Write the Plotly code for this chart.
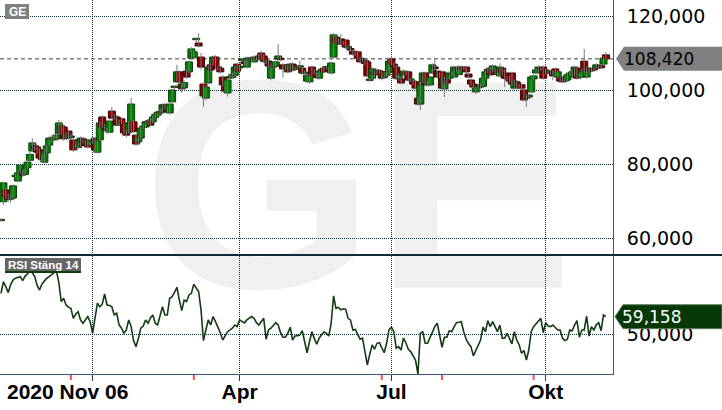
import plotly.graph_objects as go

# ---------------- data ----------------
ticker = "GE"
rsi_title = "RSI Stäng 14"
first_date_label = "2020 Nov 06"
date_tick_idx = [38, 99, 162, 226]          # trading-day index of Jan 4, Apr 1, Jul 1, Okt 1
date_tick_text = ["", "Apr", "Jul", "Okt"]
event_idx = [29, 80, 158, 183, 221]         # red event markers on the time axis
price_ticks = [60, 80, 100, 120]
rsi_ticks = [50]

open_ = [64.7, 69.8, 73.0, 71.2, 70.5, 70.8, 76.6, 75.4, 77.6, 77.8,
         77.2, 79.0, 81.0, 83.5, 85.0, 84.6, 83.8, 81.8, 80.5, 83.0,
         85.1, 87.0, 86.5, 86.8, 88.1, 90.3, 90.0, 87.0, 88.9, 87.2,
         86.5, 85.7, 84.5, 85.1, 86.8, 86.2, 86.0, 85.1, 86.4, 87.0,
         83.2, 86.5, 92.7, 90.2, 89.2, 88.6, 94.3, 92.8, 92.7, 90.6,
         92.2, 91.1, 88.9, 88.6, 89.0, 91.4, 87.8, 86.0, 87.0, 89.9,
         90.0, 91.0, 91.9, 91.4, 92.6, 93.2, 94.2, 94.0, 96.0, 95.0,
         93.8, 96.8, 100.7, 102.2, 104.9, 101.6, 100.6, 105.1, 104.9, 108.6,
         108.9, 113.6, 112.7, 108.9, 101.6, 97.8, 101.9, 106.8, 107.0, 108.9,
         106.2, 105.9, 103.5, 102.2, 99.2, 103.2, 103.4, 104.0, 107.0, 106.0,
         108.0, 107.6, 106.2, 108.3, 108.6, 107.6, 108.6, 108.4, 110.0, 109.2,
         107.6, 107.8, 103.2, 107.3, 106.4, 108.4, 108.6, 106.8, 105.8, 106.2,
         105.4, 107.0, 105.6, 106.2, 106.2, 105.9, 104.4, 102.4, 102.2, 106.2,
         105.1, 104.6, 103.2, 104.9, 105.9, 106.0, 105.8, 104.6, 108.9, 114.3,
         113.4, 113.8, 112.6, 113.5, 111.4, 111.2, 110.5, 110.0, 110.3, 108.6,
         108.0, 108.0, 107.6, 102.6, 103.2, 104.9, 104.6, 105.2, 104.9, 103.4,
         104.0, 104.9, 108.4, 107.0, 106.2, 103.0, 103.0, 104.1, 104.8, 104.9,
         102.6, 102.4, 102.2, 97.8, 96.2, 102.2, 104.6, 101.4, 101.4, 104.6,
         106.2, 105.1, 103.8, 104.9, 100.3, 103.0, 103.2, 104.4, 103.5, 106.0,
         104.2, 106.2, 105.8, 106.2, 104.3, 102.7, 101.6, 99.5, 100.6, 100.8,
         101.0, 103.2, 105.0, 105.9, 105.1, 105.4, 104.6, 103.8, 105.9, 104.6,
         103.4, 103.5, 104.6, 100.5, 102.2, 101.0, 101.4, 100.0, 98.6, 98.1,
         99.5, 103.0, 104.6, 105.1, 106.0, 106.2, 105.4, 104.8, 105.0, 104.9,
         105.7, 103.5, 103.5, 103.2, 102.4, 102.7, 104.2, 103.5, 104.0, 105.9,
         103.6, 103.5, 107.8, 103.5, 105.9, 105.2, 105.6, 105.9, 106.0, 106.6,
         107.0, 109.5]

high = [65.2, 75.2, 73.6, 72.0, 71.6, 74.5, 77.3, 78.0, 80.2, 78.5,
        79.3, 81.3, 83.2, 87.0, 85.8, 85.2, 84.2, 82.4, 83.9, 85.3,
        87.5, 87.8, 88.0, 88.4, 91.9, 91.5, 90.6, 88.6, 89.3, 88.2,
        87.0, 86.2, 85.6, 87.4, 87.3, 86.6, 86.4, 86.9, 87.0, 87.3,
        86.6, 91.5, 93.2, 90.8, 89.8, 92.0, 95.4, 93.4, 93.0, 92.0,
        92.6, 91.4, 89.3, 91.5, 97.8, 92.0, 88.2, 87.4, 90.1, 90.6,
        91.8, 92.0, 92.3, 93.2, 93.8, 94.4, 94.8, 96.4, 96.6, 95.5,
        96.6, 100.4, 101.4, 106.8, 105.3, 102.0, 102.6, 105.6, 108.0, 111.6,
        110.8, 114.2, 115.4, 110.0, 102.0, 101.2, 106.6, 107.2, 109.3, 109.4,
        106.6, 106.4, 104.0, 102.6, 103.1, 104.2, 104.6, 106.6, 107.4, 106.8,
        108.6, 108.2, 109.0, 109.0, 109.0, 109.3, 109.0, 109.8, 110.6, 109.6,
        108.2, 108.2, 107.4, 107.7, 108.0, 112.4, 109.0, 107.2, 106.6, 106.6,
        107.4, 107.5, 106.4, 106.6, 108.0, 106.3, 105.2, 104.4, 104.2, 106.6,
        105.6, 105.0, 105.3, 106.0, 106.3, 106.6, 106.2, 107.7, 115.4, 115.0,
        114.0, 115.1, 113.2, 113.9, 112.0, 111.6, 110.9, 110.4, 110.7, 109.0,
        108.6, 108.4, 108.0, 103.2, 106.1, 105.3, 105.8, 105.6, 105.3, 104.3,
        105.4, 108.8, 109.2, 107.4, 106.6, 104.4, 103.4, 105.5, 105.2, 105.3,
        103.2, 102.8, 102.6, 98.2, 102.0, 105.0, 105.0, 102.4, 103.9, 107.2,
        108.6, 105.5, 104.8, 105.3, 103.6, 103.4, 105.0, 104.8, 106.6, 106.4,
        106.6, 106.6, 106.4, 106.6, 104.7, 103.1, 102.0, 100.9, 101.4, 101.8,
        103.6, 105.3, 106.0, 106.3, 106.9, 105.8, 105.0, 107.2, 106.3, 105.6,
        103.8, 103.9, 105.0, 102.8, 102.6, 101.6, 101.8, 100.4, 99.0, 99.0,
        103.9, 104.2, 105.8, 106.6, 106.4, 106.6, 105.8, 105.4, 105.4, 105.3,
        106.1, 105.3, 103.9, 103.6, 103.2, 104.5, 104.8, 105.3, 106.6, 106.3,
        104.4, 105.8, 111.1, 106.3, 106.3, 106.0, 106.0, 107.2, 107.0, 107.0,
        109.0, 110.2]

low = [64.5, 68.9, 70.6, 69.8, 69.5, 70.2, 76.2, 75.0, 77.2, 76.5,
       76.8, 78.6, 80.6, 83.2, 83.6, 82.8, 81.0, 80.4, 80.1, 82.6,
       84.8, 86.0, 86.1, 86.4, 87.8, 88.0, 86.3, 86.4, 86.6, 86.6,
       83.2, 84.1, 84.0, 84.8, 85.5, 84.7, 84.2, 84.8, 85.5, 83.2,
       82.8, 86.2, 89.6, 88.8, 88.2, 88.3, 92.0, 92.0, 90.1, 90.2,
       90.8, 88.0, 87.2, 88.2, 88.5, 88.4, 84.9, 85.1, 86.6, 89.5,
       89.6, 90.5, 90.1, 91.0, 92.2, 92.8, 93.3, 93.6, 94.8, 93.6,
       93.4, 96.4, 100.2, 101.8, 101.6, 99.2, 100.2, 103.0, 104.5, 108.2,
       108.5, 113.0, 111.5, 105.5, 95.4, 97.2, 101.5, 105.0, 106.6, 105.6,
       105.4, 104.4, 101.0, 99.3, 98.2, 102.8, 103.0, 103.6, 104.7, 105.2,
       107.6, 106.8, 105.8, 107.9, 107.6, 107.2, 108.0, 108.0, 108.2, 107.4,
       107.0, 106.1, 102.6, 105.8, 106.0, 108.0, 107.8, 103.4, 105.4, 104.5,
       105.0, 105.0, 105.2, 105.6, 105.8, 104.2, 104.0, 102.0, 101.6, 103.4,
       104.2, 103.0, 102.8, 104.5, 104.5, 105.6, 104.6, 104.2, 108.5, 112.3,
       112.6, 112.0, 112.2, 111.2, 111.0, 110.4, 109.3, 109.3, 108.2, 107.2,
       107.6, 106.8, 103.4, 102.2, 102.8, 103.7, 104.2, 104.4, 102.6, 103.0,
       103.6, 104.5, 106.6, 106.0, 102.8, 102.6, 101.5, 103.7, 104.0, 102.3,
       102.2, 101.2, 100.1, 95.8, 94.6, 101.8, 101.0, 101.0, 101.0, 104.2,
       105.4, 103.1, 103.4, 100.1, 98.1, 101.5, 102.8, 103.6, 103.1, 105.0,
       103.8, 105.2, 105.4, 104.5, 103.1, 101.2, 100.4, 98.9, 100.2, 100.4,
       100.6, 102.8, 104.6, 103.7, 104.7, 104.2, 103.8, 103.4, 104.2, 100.8,
       102.6, 102.0, 101.2, 100.1, 100.4, 100.6, 100.1, 96.9, 95.4, 97.7,
       99.1, 102.6, 104.2, 104.7, 105.2, 102.8, 104.2, 104.4, 104.2, 102.6,
       103.7, 103.1, 102.0, 101.8, 102.0, 102.3, 103.8, 103.1, 103.6, 102.8,
       103.2, 103.1, 104.5, 103.1, 104.7, 104.8, 105.0, 105.5, 105.6, 105.6,
       106.6, 108.2]

close = [65.0, 74.9, 71.1, 70.4, 70.6, 74.1, 76.9, 77.6, 79.7, 77.0,
         78.9, 80.5, 82.6, 85.7, 84.2, 83.2, 81.6, 81.2, 83.5, 84.9,
         87.0, 86.6, 87.2, 87.8, 91.1, 88.4, 86.8, 88.0, 87.0, 87.4,
         83.8, 84.6, 85.0, 87.0, 85.9, 85.0, 84.6, 86.5, 86.0, 83.8,
         86.2, 91.1, 90.0, 89.4, 89.0, 91.6, 92.4, 92.6, 90.5, 91.6,
         91.1, 88.4, 87.8, 91.0, 96.2, 88.8, 85.4, 87.0, 89.7, 90.1,
         91.4, 91.6, 90.5, 92.7, 93.4, 94.0, 93.8, 96.0, 95.2, 94.2,
         96.2, 100.0, 100.9, 104.9, 102.2, 100.3, 102.0, 103.5, 107.6, 111.1,
         110.3, 113.9, 111.9, 106.2, 98.4, 100.8, 106.2, 105.4, 108.9, 106.0,
         105.9, 104.9, 101.4, 99.7, 102.7, 103.6, 104.2, 106.2, 105.1, 106.4,
         108.2, 107.2, 108.6, 108.5, 108.0, 108.9, 108.4, 109.2, 108.6, 107.8,
         107.8, 106.5, 107.0, 106.2, 107.6, 109.2, 108.2, 105.7, 106.2, 104.9,
         107.0, 105.4, 106.0, 106.0, 106.4, 104.6, 104.8, 104.0, 103.8, 103.8,
         104.6, 103.4, 104.9, 105.6, 104.9, 106.2, 105.2, 107.3, 114.9, 112.7,
         113.6, 112.4, 112.8, 111.6, 111.6, 110.8, 109.7, 109.8, 108.6, 107.6,
         108.2, 107.2, 103.8, 102.8, 105.7, 104.1, 105.4, 104.8, 103.2, 103.8,
         105.0, 107.8, 107.0, 106.4, 103.2, 104.0, 101.9, 105.1, 104.4, 102.7,
         102.8, 101.6, 100.5, 96.2, 101.6, 104.6, 101.4, 102.0, 103.5, 106.8,
         105.8, 103.5, 104.4, 100.5, 103.2, 101.9, 104.6, 104.0, 106.2, 105.4,
         106.2, 105.6, 106.0, 104.9, 103.5, 101.6, 100.8, 100.5, 101.0, 101.4,
         103.2, 104.9, 105.6, 104.1, 106.5, 104.6, 104.2, 106.2, 104.6, 103.2,
         103.0, 102.4, 101.6, 102.4, 100.8, 101.2, 100.5, 97.3, 97.8, 98.6,
         103.5, 103.8, 105.4, 106.2, 105.6, 103.2, 104.6, 105.0, 104.6, 103.8,
         104.1, 104.9, 102.4, 102.2, 102.8, 104.1, 104.4, 104.9, 106.2, 103.2,
         104.0, 105.4, 104.9, 105.9, 105.1, 105.6, 105.4, 106.8, 106.6, 106.0,
         108.6, 108.42]

rsi = [71.0, 76.9, 74.4, 71.4, 75.5, 77.8, 78.7, 79.2, 79.5, 77.5,
       79.8, 81.0, 82.5, 81.5, 79.5, 75.0, 72.7, 75.8, 77.5, 78.7,
       79.5, 80.5, 81.2, 82.5, 76.5, 66.8, 68.5, 65.1, 64.0, 63.4,
       58.3, 60.5, 61.7, 57.5, 55.8, 57.5, 59.2, 56.6, 50.7, 58.3,
       66.0, 64.2, 65.5, 70.7, 65.1, 64.8, 64.2, 60.0, 60.9, 55.0,
       53.3, 50.7, 52.4, 57.5, 54.1, 47.0, 43.9, 48.0, 53.3, 54.4,
       57.5, 55.8, 58.5, 60.0, 55.8, 54.9, 59.0, 64.2, 60.0, 60.0,
       68.5, 69.3, 71.5, 74.1, 67.6, 62.2, 67.6, 66.8, 70.2, 71.0,
       75.6, 73.5, 71.9, 62.6, 47.0, 52.4, 57.5, 54.9, 59.2, 56.6,
       54.1, 51.0, 47.3, 49.8, 51.5, 52.4, 53.3, 54.9, 54.1, 57.5,
       56.6, 56.0, 57.5, 58.4, 59.2, 58.3, 56.1, 54.9, 56.5, 58.3,
       47.7, 52.4, 53.3, 54.5, 56.1, 54.9, 51.0, 48.7, 48.7, 50.7,
       53.8, 47.3, 49.3, 49.5, 49.8, 52.0, 46.4, 40.8, 46.4, 51.5,
       48.0, 45.1, 48.2, 50.0, 51.5, 50.7, 49.3, 55.8, 69.7, 63.4,
       63.9, 62.6, 63.2, 63.0, 58.3, 57.5, 52.4, 52.7, 49.8, 47.7,
       48.2, 42.2, 34.6, 40.0, 44.8, 42.6, 45.6, 45.9, 43.0, 40.8,
       45.6, 52.4, 53.8, 51.5, 43.1, 43.9, 42.2, 48.2, 45.9, 42.6,
       41.4, 39.0, 37.1, 30.0, 50.7, 51.5, 45.6, 45.6, 48.5, 51.5,
       54.1, 55.8, 48.7, 43.6, 48.7, 48.7, 52.0, 51.5, 54.0, 56.1,
       56.3, 56.6, 51.5, 47.7, 45.5, 43.9, 39.2, 42.2, 44.5, 47.3,
       53.8, 51.5, 57.1, 54.1, 56.6, 54.0, 51.5, 54.9, 48.2, 48.2,
       50.7, 48.0, 45.3, 51.5, 47.3, 44.8, 40.5, 42.0, 37.1, 42.2,
       51.5, 54.1, 55.5, 57.1, 58.3, 51.0, 56.1, 54.4, 54.1, 54.9,
       53.5, 52.4, 52.4, 48.2, 47.0, 47.7, 52.4, 52.0, 54.9, 57.1,
       48.7, 52.4, 52.4, 59.5, 49.3, 54.1, 52.4, 55.0, 56.1, 52.0,
       60.0, 59.158]

# ---------------- layout constants (pixels) ----------------
W, H = 722, 410
MR, MB = 109, 36
PW, PH = W - MR, H - MB          # plot area 613 x 374
SEP = 255                         # y of panel separator


def fx(px):
    return px / PW


def fy(py):
    return (PH - py) / PH


def sv(v):  # Swedish 3-decimal format
    return f"{v:.3f}".replace(".", ",")


BAR_PX = 2.41
x_lo = -1 / BAR_PX
x_hi = (PW - 1) / BAR_PX
p_lo = 100 - (SEP - 90) / 3.7
p_hi = 100 + 90 / 3.7

GRID = "#0b3040"
BORDER = "#3a5678"
FONT_NUM = "DejaVu Sans"
FONT_LBL = "Arial"

idx = list(range(len(close)))
up = [c >= o for o, c in zip(open_, close)]
body_base = [min(o, c) for o, c in zip(open_, close)]
body_h = [max(abs(c - o), 0.35) for o, c in zip(open_, close)]
fill = ["#008000" if u else "#880000" for u in up]
edge = ["#0b3a0b" if u else "#3a0808" for u in up]

wx, wy = [], []
for i, lo, hi in zip(idx, low, high):
    wx += [i, i, None]
    wy += [lo, hi, None]

fig = go.Figure()

fig.add_trace(go.Scatter(
    x=wx, y=wy, mode="lines", line=dict(color="#7a7a7a", width=1),
    xaxis="x2", yaxis="y2", hoverinfo="skip", showlegend=False))

fig.add_trace(go.Bar(
    x=idx, y=body_h, base=body_base, width=7 / BAR_PX,
    marker=dict(color=fill, line=dict(color=edge, width=1)),
    xaxis="x2", yaxis="y2", hoverinfo="skip", showlegend=False))

fig.add_trace(go.Scatter(
    x=idx, y=rsi, mode="lines", line=dict(color="#123c12", width=1.6),
    xaxis="x3", yaxis="y3", hoverinfo="skip", showlegend=False))

grid_common = dict(showgrid=True, gridcolor=GRID, gridwidth=1, griddash="1px,1px",
                   zeroline=False, fixedrange=True)

fig.update_layout(
    width=W, height=H,
    margin=dict(l=0, r=MR, t=0, b=MB, pad=0),
    paper_bgcolor="white", plot_bgcolor="rgba(0,0,0,0)",
    font=dict(family="Arial"),
    showlegend=False, hovermode=False,
    xaxis2=dict(domain=[0, 1], range=[x_lo, x_hi], anchor="y2",
                tickvals=date_tick_idx, showticklabels=False, ticks="",
                **grid_common),
    yaxis2=dict(domain=[fy(SEP), 1], range=[p_lo, p_hi], anchor="x2", side="right",
                tickvals=price_ticks, ticktext=[sv(v) for v in price_ticks],
                ticks="", ticklabelstandoff=9,
                tickfont=dict(family=FONT_NUM, size=19, color="#000000"),
                showline=True, linecolor=BORDER, linewidth=1,
                **grid_common),
    xaxis3=dict(domain=[0, 1], range=[x_lo, x_hi], anchor="y3",
                tickvals=date_tick_idx, ticktext=date_tick_text,
                ticks="outside", ticklen=6, tickcolor="#1d3a5c", tickwidth=1,
                ticklabelstandoff=-7,
                tickfont=dict(family=FONT_LBL, size=21, color="#000000", weight="bold"),
                showline=True, linecolor=BORDER, linewidth=1,
                **grid_common),
    yaxis3=dict(domain=[0, fy(SEP + 1)], range=[30, 90], anchor="x3", side="right",
                tickvals=rsi_ticks, ticktext=[sv(v) for v in rsi_ticks],
                ticks="", ticklabelstandoff=9,
                tickfont=dict(family=FONT_NUM, size=19, color="#000000"),
                showline=True, linecolor=BORDER, linewidth=1,
                **grid_common),
)

shapes = []
# watermark: transparent box below everything, carrying the ticker as a text label
shapes.append(dict(type="rect", xref="paper", yref="paper", layer="below",
                   x0=fx(150), x1=fx(566), y0=fy(271), y1=fy(41),
                   fillcolor="rgba(0,0,0,0)", line=dict(width=0),
                   label=dict(text=ticker, textposition="middle center", padding=0,
                              font=dict(family="Liberation Sans", size=298,
                                        color="#f0f0f0", weight="bold"))))
# last price dashed line
shapes.append(dict(type="line", xref="paper", yref="y2", x0=0, x1=1,
                   y0=close[-1], y1=close[-1], layer="below",
                   line=dict(color="#808080", width=1.5, dash="4px,3px")))
# panel separator
shapes.append(dict(type="line", xref="paper", yref="paper", x0=0, x1=fx(W),
                   y0=fy(SEP), y1=fy(SEP), line=dict(color="#0c2a3a", width=2)))
# event markers on time axis
for e in event_idx:
    shapes.append(dict(type="line", xref="x3", yref="paper", x0=e, x1=e,
                       y0=fy(375), y1=fy(380), line=dict(color="#ff5050", width=2)))


def path(points):
    s = "M " + " L ".join(f"{fx(a):.5f},{fy(b):.5f}" for a, b in points) + " Z"
    return s


# last price tag
yp = 90 - (close[-1] - 100) * 3.7
shapes.append(dict(type="path", xref="paper", yref="paper",
                   path=path([(616, yp), (624, yp - 12), (W, yp - 12), (W, yp + 12), (624, yp + 12)]),
                   fillcolor="#808080", line=dict(width=0)))
# last RSI tag
yr = 334.7 - (rsi[-1] - 50) * (118 / 60)
shapes.append(dict(type="path", xref="paper", yref="paper",
                   path=path([(615, yr), (623, yr - 12), (W, yr - 12), (W, yr + 12), (623, yr + 12)]),
                   fillcolor="#063806", line=dict(color="#5f7f5f", width=1)))
# ticker label box
shapes.append(dict(type="rect", xref="paper", yref="paper",
                   x0=fx(5), x1=fx(29), y0=fy(19), y1=fy(4),
                   fillcolor="#808080", line=dict(width=0)))
# RSI label box
shapes.append(dict(type="rect", xref="paper", yref="paper",
                   x0=fx(5), x1=fx(81), y0=fy(271), y1=fy(258),
                   fillcolor="#666666", line=dict(width=0)))
shapes.append(dict(type="rect", xref="paper", yref="paper",
                   x0=fx(5), x1=fx(81), y0=fy(273), y1=fy(271),
                   fillcolor="#0b3d0b", line=dict(width=0)))
fig.update_layout(shapes=shapes)

ann = [
    dict(text=ticker, x=fx(17), y=fy(11.5), xanchor="center", yanchor="middle",
         font=dict(family=FONT_LBL, size=12, color="white", weight="bold")),
    dict(text=rsi_title, x=fx(43), y=fy(264.5), xanchor="center", yanchor="middle",
         font=dict(family=FONT_LBL, size=11.5, color="white", weight="bold")),
    dict(text=sv(close[-1]), x=fx(623), y=fy(yp), xanchor="left", yanchor="middle",
         font=dict(family=FONT_NUM, size=17, color="#000000")),
    dict(text=sv(rsi[-1]), x=fx(621), y=fy(yr), xanchor="left", yanchor="middle",
         font=dict(family=FONT_NUM, size=17, color="#ffffff")),
    dict(text=first_date_label, x=fx(6), y=fy(391), xanchor="left", yanchor="middle",
         font=dict(family=FONT_LBL, size=21, color="#000000", weight="bold")),
]
for a in ann:
    a.update(xref="paper", yref="paper", showarrow=False, borderpad=0)
fig.update_layout(annotations=ann)

fig.write_html("out.html", config={"displayModeBar": False, "staticPlot": True},
               post_script="document.body.style.margin='0';document.body.style.overflow='hidden';")
